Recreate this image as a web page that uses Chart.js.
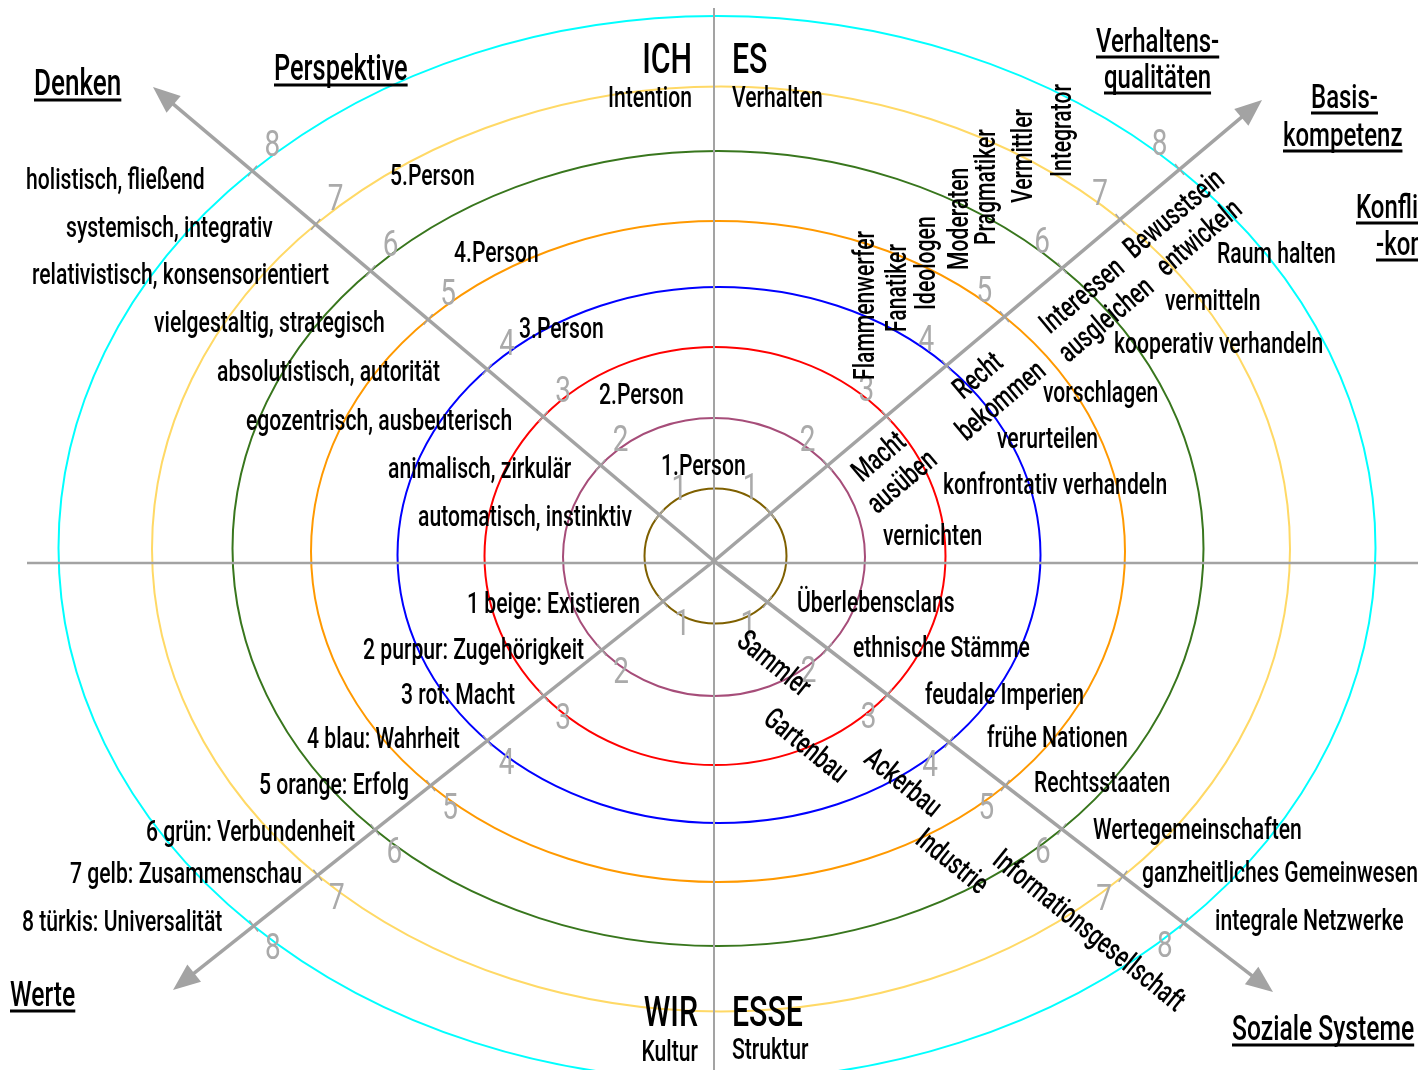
<!DOCTYPE html>
<html><head><meta charset="utf-8">
<script src="https://cdn.jsdelivr.net/npm/chart.js@4/dist/chart.umd.min.js"></script>
<style>html,body{margin:0;padding:0;background:#fff;overflow:hidden}#wrap{width:1418px;height:1070px}</style>
</head><body><div id="wrap"><canvas id="c" width="1418" height="1070"></canvas></div>
<script>
// ================= DATA =================
const levels = [1, 2, 3, 4, 5, 6, 7, 8];
const levelTickLabels = ["1", "2", "3", "4", "5", "6", "7", "8"];
const ringColors = ["#7f6000", "#a64d79", "#ff0000", "#0000ff", "#ff9900", "#38761d", "#ffd966", "#00ffff"];
// ring half-widths / half-heights in chart units
const ringSemiAxisX = [71, 151, 230.5, 321.5, 407, 485.5, 569, 658.5];
const ringSemiAxisY = [67.5, 139, 209, 268, 330.5, 397.5, 462.5, 532];

const denken = ["automatisch, instinktiv", "animalisch, zirkulär", "egozentrisch, ausbeuterisch", "absolutistisch, autorität",
  "vielgestaltig, strategisch", "relativistisch, konsensorientiert", "systemisch, integrativ", "holistisch, fließend"];
const perspektive = ["1.Person", "2.Person", "3.Person", "4.Person", "5.Person"];
const verhaltensqualitaeten = ["Flammenwerfer", "Fanatiker", "Ideologen", "Moderaten", "Pragmatiker", "Vermittler", "Integrator"];
const basiskompetenz = [["Macht", "ausüben"], ["Recht", "bekommen"], ["Interessen", "ausgleichen"], ["Bewusstsein", "entwickeln"]];
const konfliktkompetenz = ["vernichten", "konfrontativ verhandeln", "verurteilen", "vorschlagen", "kooperativ verhandeln", "vermitteln", "Raum halten"];
const werte = ["1 beige: Existieren", "2 purpur: Zugehörigkeit", "3 rot: Macht", "4 blau: Wahrheit", "5 orange: Erfolg",
  "6 grün: Verbundenheit", "7 gelb: Zusammenschau", "8 türkis: Universalität"];
const sozialeSysteme = ["Überlebensclans", "ethnische Stämme", "feudale Imperien", "frühe Nationen", "Rechtsstaaten",
  "Wertegemeinschaften", "ganzheitliches Gemeinwesen", "integrale Netzwerke"];
const wirtschaft = ["Sammler", "Gartenbau", "Ackerbau", "Industrie", "Informationsgesellschaft"];
const headers = [["Denken"], ["Perspektive"], ["Verhaltens-", "qualitäten"], ["Basis-", "kompetenz"], ["Konflikt", "-kompetenz"], ["Werte"], ["Soziale Systeme"]];
const quadrantTitles = ["ICH", "ES", "WIR", "ESSE"];
const quadrantSubtitles = ["Intention", "Verhalten", "Kultur", "Struktur"];

// ================= LAYOUT (chart units, y downward) =================
const origin = [714, 561];
const axisV = [714, 8, 1070];
const axisH = [563, 27, 1418];
const ringCentre = [[715.5, 556], [714, 557], [715, 556], [719, 555], [718, 551.5], [718, 548.5], [721, 549], [717, 548]];
const arrowTips = [[153, 87, 1], [1262, 100, -1], [173, 990, -1], [1273, 992, 1]]; // x, y, label side
const denkenPos = [[418, 526], [388, 478], [246, 430], [217, 381], [154, 332], [32, 284], [66, 237], [26, 189]];
const perspektivePos = [[661, 475], [599, 404], [519, 338], [454, 262], [390, 185]];
const verhaltenPos = [[874, 380], [906, 332], [935, 310], [968, 270], [995, 245], [1032, 203], [1071, 177]];
const basisPos = [[[880, 458], [903, 483]], [[979, 377], [1002, 402]], [[1083, 297], [1107, 321]], [[1175, 215], [1200, 239]]];
const konfliktPos = [[883, 545], [943, 494], [997, 448], [1043, 402], [1114, 353], [1165, 310], [1217, 263]];
const wertePos = [[467, 613], [363, 659], [401, 704], [307, 748], [259, 794], [146, 841], [70, 883], [22, 931]];
const sozialPos = [[797, 612], [853, 657], [925, 704], [987, 747], [1034, 792], [1093, 839], [1142, 882], [1215, 930]];
const wirtschaftPos = [[773, 665], [805, 747], [902, 784], [951, 863], [1088, 932]];
const headerPos = [[[34, 95, 37]], [[274, 80, 36]], [[1096, 52, 34], [1104, 88, 34]], [[1311, 108, 34], [1283, 146, 34]],
  [[1356, 218, 34], [1376, 255, 34]], [[10, 1006, 35]], [[1232, 1040, 35]]];
const quadTitlePos = [[692, 73, "right"], [732, 73, "left"], [698, 1026, "right"], [732, 1026, "left"]];
const quadSubPos = [[692, 107, "right"], [732, 107, "left"], [698, 1061, "right"], [732, 1059, "left"]];

const FONT = "Roboto";
const BASE = 30;
const WEIGHT = 500;
const GREY = "#a3a3a3";

const diagram = {
  id: "diagram",
  afterDraw(chart) {
    const ctx = chart.ctx, xs = chart.scales.x, ys = chart.scales.y;
    const px = v => xs.getPixelForValue(v), py = v => ys.getPixelForValue(v);
    ctx.save();
    ctx.font = `${WEIGHT} ${BASE}px ${FONT}`;
    const SX = 214 / ctx.measureText(denken[0]).width;
    ctx.restore();

    function text(t, x, y, o) {
      o = o || {};
      ctx.save();
      ctx.translate(px(x), py(y));
      if (o.rot) ctx.rotate(o.rot * Math.PI / 180);
      ctx.scale(SX, 1);
      ctx.font = `${o.weight || WEIGHT} ${o.size || BASE}px ${FONT}`;
      ctx.textAlign = o.align || "left";
      ctx.textBaseline = o.baseline || "alphabetic";
      ctx.fillStyle = o.color || "#000";
      ctx.fillText(t, 0, 0);
      if (o.underline) {
        const w = ctx.measureText(t).width;
        const x0 = ctx.textAlign === "right" ? -w : (ctx.textAlign === "center" ? -w / 2 : 0);
        ctx.fillRect(x0, 3.5, w, 3);
      }
      ctx.restore();
    }

    // rings
    levels.forEach((lv, i) => {
      const [cx, cy] = ringCentre[i];
      ctx.beginPath();
      ctx.ellipse(px(cx), py(cy), Math.abs(px(cx + ringSemiAxisX[i]) - px(cx)), Math.abs(py(cy + ringSemiAxisY[i]) - py(cy)), 0, 0, Math.PI * 2);
      ctx.strokeStyle = ringColors[i];
      ctx.lineWidth = 2;
      ctx.stroke();
    });

    // straight axes
    ctx.strokeStyle = GREY;
    ctx.lineWidth = 2;
    ctx.beginPath();
    ctx.moveTo(px(axisV[0]), py(axisV[1])); ctx.lineTo(px(axisV[0]), py(axisV[2]));
    ctx.stroke();
    ctx.lineWidth = 2.5;
    ctx.beginPath();
    ctx.moveTo(px(axisH[1]), py(axisH[0])); ctx.lineTo(px(axisH[2]), py(axisH[0]));
    ctx.stroke();

    // diagonal arrows
    const ox = px(origin[0]), oy = py(origin[1]);
    arrowTips.forEach(([tx, ty, side]) => {
      const tX = px(tx), tY = py(ty);
      const len = Math.hypot(tX - ox, tY - oy);
      const ux = (tX - ox) / len, uy = (tY - oy) / len;
      const nx = -uy * side, ny = ux * side;
      const head = 27, hw = 11;
      ctx.strokeStyle = GREY; ctx.fillStyle = GREY;
      ctx.lineWidth = 3.5;
      ctx.beginPath();
      ctx.moveTo(ox, oy); ctx.lineTo(tX - ux * (head - 2), tY - uy * (head - 2));
      ctx.stroke();
      ctx.beginPath();
      ctx.moveTo(tX, tY);
      ctx.lineTo(tX - ux * head - uy * hw, tY - uy * head + ux * hw);
      ctx.lineTo(tX - ux * head + uy * hw, tY - uy * head - ux * hw);
      ctx.closePath(); ctx.fill();
      // crossings with rings -> small ticks + level numbers
      levels.forEach((lv, i) => {
        const cx = px(ringCentre[i][0]), cy = py(ringCentre[i][1]);
        const rx = Math.abs(px(ringCentre[i][0] + ringSemiAxisX[i]) - cx);
        const ry = Math.abs(py(ringCentre[i][1] + ringSemiAxisY[i]) - cy);
        const dx = ox - cx, dy = oy - cy;
        const a = ux * ux / (rx * rx) + uy * uy / (ry * ry);
        const b = 2 * (dx * ux / (rx * rx) + dy * uy / (ry * ry));
        const c = dx * dx / (rx * rx) + dy * dy / (ry * ry) - 1;
        const t = (-b + Math.sqrt(b * b - 4 * a * c)) / (2 * a);
        const X = ox + ux * t, Y = oy + uy * t;
        ctx.lineWidth = 1.5;
        ctx.beginPath();
        ctx.moveTo(X - uy * 7, Y + ux * 7); ctx.lineTo(X + uy * 7, Y - ux * 7);
        ctx.stroke();
        ctx.save();
        ctx.translate(X + nx * 31, Y + ny * 31);
        ctx.scale(SX * 1.1, 1);
        ctx.font = `400 36px ${FONT}`;
        ctx.fillStyle = "#aaaaaa";
        ctx.textAlign = "center"; ctx.textBaseline = "middle";
        ctx.fillText(levelTickLabels[i], 0, 0);
        ctx.restore();
      });
    });

    // headers
    headers.forEach((lines, i) => lines.forEach((t, j) => {
      const [x, y, s] = headerPos[i][j];
      text(t, x, y, { size: s, underline: true });
    }));
    quadrantTitles.forEach((t, i) => text(t, quadTitlePos[i][0], quadTitlePos[i][1], { size: 43, align: quadTitlePos[i][2] }));
    quadrantSubtitles.forEach((t, i) => text(t, quadSubPos[i][0], quadSubPos[i][1], { align: quadSubPos[i][2] }));

    denken.forEach((t, i) => text(t, denkenPos[i][0], denkenPos[i][1]));
    perspektive.forEach((t, i) => text(t, perspektivePos[i][0], perspektivePos[i][1]));
    verhaltensqualitaeten.forEach((t, i) => text(t, verhaltenPos[i][0], verhaltenPos[i][1], { rot: -90 }));
    basiskompetenz.forEach((pair, i) => pair.forEach((t, j) =>
      text(t, basisPos[i][j][0], basisPos[i][j][1], { rot: -40, align: "center", baseline: "middle" })));
    konfliktkompetenz.forEach((t, i) => text(t, konfliktPos[i][0], konfliktPos[i][1]));
    werte.forEach((t, i) => text(t, wertePos[i][0], wertePos[i][1]));
    sozialeSysteme.forEach((t, i) => text(t, sozialPos[i][0], sozialPos[i][1]));
    wirtschaft.forEach((t, i) => text(t, wirtschaftPos[i][0], wirtschaftPos[i][1], { rot: 39, align: "center", baseline: "middle" }));
  }
};

new Chart(document.getElementById("c"), {
  type: "scatter",
  data: { datasets: [{ data: levels.map((lv, i) => ({ x: ringCentre[i][0], y: ringCentre[i][1] })), pointRadius: 0, showLine: false }] },
  options: {
    responsive: false,
    animation: false,
    layout: { padding: 0 },
    events: [],
    plugins: { legend: { display: false }, tooltip: { enabled: false } },
    scales: {
      x: { type: "linear", min: 0, max: 1418, display: false },
      y: { type: "linear", min: 0, max: 1070, reverse: true, display: false }
    }
  },
  plugins: [diagram]
});
</script>
</body></html>
